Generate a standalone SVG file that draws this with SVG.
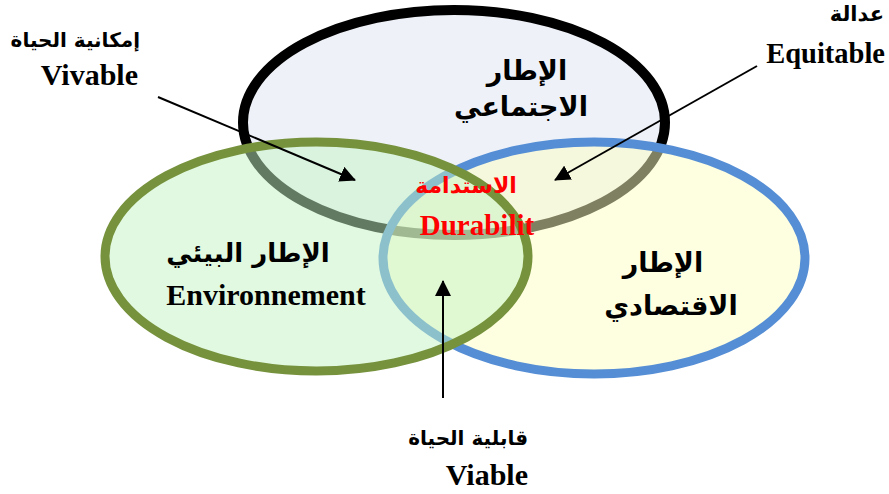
<svg xmlns="http://www.w3.org/2000/svg" width="889" height="494" viewBox="0 0 889 494">
  <style>
    .ar { font-family: "DejaVu Sans", "Noto Sans", sans-serif; font-weight: bold; fill: #000; }
    .arb { font-family: "DejaVu Sans", "Noto Sans", sans-serif; font-weight: bold; fill: #000; }
    .lat { font-family: "Liberation Serif", "Times New Roman", serif; font-weight: bold; fill: #000; }
    .red { fill: #ff0000; }
    .conn { stroke: #000; stroke-width: 2; fill: none; marker-end: url(#head); }
  </style>
  <defs>
    <marker id="head" markerUnits="userSpaceOnUse" markerWidth="16" markerHeight="16" refX="15" refY="8" orient="auto">
      <path d="M0,0 L16,8 L0,16 Z" fill="#000"/>
    </marker>
  </defs>
  <rect width="889" height="494" fill="#fff"/>

  <!-- social sphere (bottom layer) -->
  <g id="social">
    <ellipse cx="454" cy="122.5" rx="211" ry="112.5" fill="#eef2f8" stroke="#000" stroke-width="10"/>
    <text class="ar" x="527" y="80" font-size="27" text-anchor="middle">الإطار</text>
    <text class="ar" x="521" y="116" font-size="27" text-anchor="middle">الاجتماعي</text>
  </g>

  <!-- economic sphere -->
  <g id="economic">
    <ellipse cx="594" cy="258" rx="211" ry="116" fill="#fdfdc2" fill-opacity="0.5"/>
    <ellipse cx="594" cy="258" rx="211" ry="116" fill="none" stroke="#558ed5" stroke-width="9"/>
    <text class="ar" x="663" y="272" font-size="27" text-anchor="middle">الإطار</text>
    <text class="ar" x="671" y="315" font-size="27" text-anchor="middle">الاقتصادي</text>
  </g>

  <!-- environmental sphere (top layer) -->
  <g id="environment">
    <ellipse cx="316.5" cy="256.5" rx="211.5" ry="114.5" fill="#c4f4c4" fill-opacity="0.5"/>
    <ellipse cx="316.5" cy="256.5" rx="211.5" ry="114.5" fill="none" stroke="#76923c" stroke-width="9"/>
    <text class="arb" x="248" y="262" font-size="26" text-anchor="middle">الإطار البيئي</text>
    <text class="lat" x="266" y="305" font-size="30" text-anchor="middle">Environnement</text>
  </g>

  <!-- intersection label -->
  <g id="durability">
    <text class="arb red" x="466" y="193" font-size="22" text-anchor="middle">الاستدامة</text>
    <text class="lat red" x="477" y="235" font-size="29" text-anchor="middle">Durabilit</text>
  </g>

  <!-- pairwise labels -->
  <g id="vivable">
    <text class="arb" x="140" y="47" font-size="20" text-anchor="end">إمكانية الحياة</text>
    <text class="lat" x="138" y="85" font-size="30" text-anchor="end">Vivable</text>
  </g>
  <g id="equitable">
    <text class="arb" x="884" y="21" font-size="21" text-anchor="end">عدالة</text>
    <text class="lat" x="885" y="63" font-size="28.5" text-anchor="end">Equitable</text>
  </g>
  <g id="viable">
    <text class="arb" x="528" y="445" font-size="20" text-anchor="end">قابلية الحياة</text>
    <text class="lat" x="528" y="485" font-size="30" text-anchor="end">Viable</text>
  </g>

  <!-- connectors -->
  <g id="connectors">
    <line class="conn" x1="158" y1="97" x2="355" y2="180"/>
    <line class="conn" x1="757" y1="66" x2="555" y2="180"/>
    <line class="conn" x1="443" y1="398" x2="443" y2="281"/>
  </g>
</svg>
